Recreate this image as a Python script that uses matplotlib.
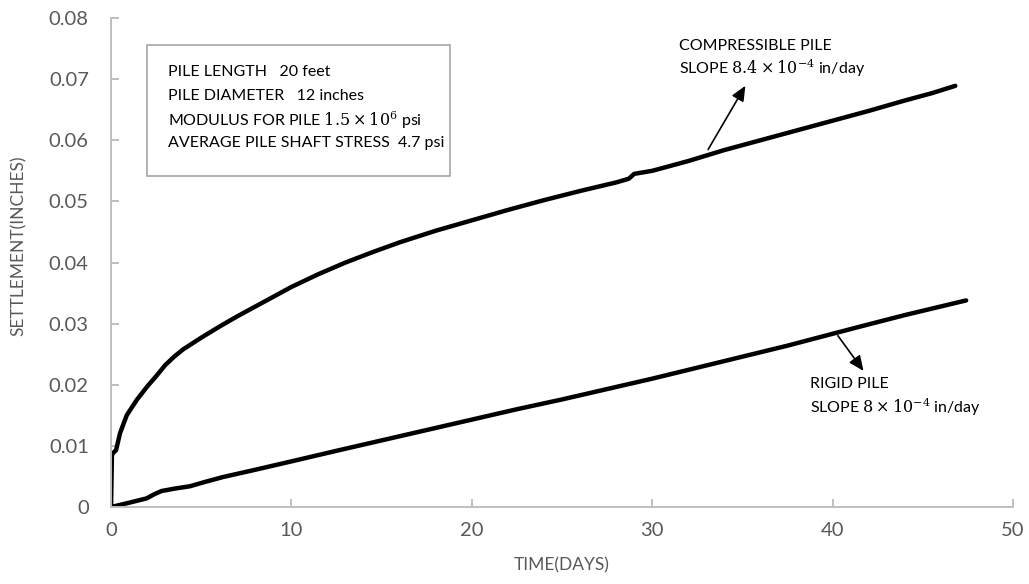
import matplotlib
matplotlib.use("Agg")
import matplotlib.pyplot as plt
from matplotlib.patches import Rectangle

plt.rcParams['font.family'] = ['Lato', 'DejaVu Sans']
plt.rcParams['mathtext.fontset'] = 'dejavuserif'

# Compressible pile settlement (days, inches)
comp_t = [0, 0.05, 0.1, 0.28, 0.5, 0.87, 1.42, 2.0, 2.5, 3.0, 3.5, 4.0, 5.0, 6.0, 7.0, 8.5,
          10.0, 11.5, 13.0, 14.5, 16.0, 18.0, 20.0, 22.0, 24.0, 26.0, 28.0, 28.7, 29.0,
          30.0, 32.0, 34.0, 36.0, 38.0, 40.0, 42.0, 44.0, 45.5, 46.8]
comp_s = [0, 0.0085, 0.0088, 0.0093, 0.0121, 0.0150, 0.0175, 0.0197, 0.0214, 0.0232, 0.0246,
          0.0258, 0.0277, 0.0295, 0.0312, 0.0336, 0.0360, 0.0381, 0.0400, 0.0417, 0.0433,
          0.0452, 0.0469, 0.0486, 0.0502, 0.0517, 0.0531, 0.0537, 0.0545, 0.0550, 0.0566,
          0.0584, 0.0600, 0.0616, 0.0632, 0.0648, 0.0665, 0.0677, 0.0689]

# Rigid pile settlement
rigid_t = [0, 1.0, 1.98, 2.4, 2.8, 3.5, 4.38, 5.2, 6.2, 8.0, 9.9, 12.5, 15.0, 17.5, 20.0,
           22.5, 25.0, 27.5, 30.0, 32.5, 35.0, 37.5, 39.3, 41.5, 44.0, 47.4]
rigid_s = [0, 0.0007, 0.00142, 0.0021, 0.00262, 0.0030, 0.0034, 0.0041, 0.0049, 0.0061,
           0.0074, 0.0092, 0.0109, 0.0126, 0.0143, 0.0160, 0.0176, 0.0193, 0.0210, 0.0228,
           0.0246, 0.0264, 0.0278, 0.0295, 0.0314, 0.0338]

xticks = [0, 10, 20, 30, 40, 50]
yticks = [0, 0.01, 0.02, 0.03, 0.04, 0.05, 0.06, 0.07, 0.08]
ytick_labels = ['0', '0.01', '0.02', '0.03', '0.04', '0.05', '0.06', '0.07', '0.08']

box_lines = ['PILE LENGTH   20 feet',
             'PILE DIAMETER   12 inches',
             r'MODULUS FOR PILE $1.5\times10^{6}$ psi',
             'AVERAGE PILE SHAFT STRESS  4.7 psi']

gray = '#595959'
spine_c = '#BFBFBF'

fig = plt.figure(figsize=(10.29, 5.84), dpi=100)
ax = fig.add_axes([0.1079, 0.1318, 0.8766, 0.8374])

ax.plot(comp_t, comp_s, color='black', lw=3.2, solid_joinstyle='round', solid_capstyle='round')
ax.plot(rigid_t, rigid_s, color='black', lw=3.2, solid_joinstyle='round', solid_capstyle='round')

ax.set_xlim(0, 50)
ax.set_ylim(0, 0.08)
ax.set_xticks(xticks)
ax.set_xticklabels([str(v) for v in xticks])
ax.set_yticks(yticks)
ax.set_yticklabels(ytick_labels)

for s in ['top', 'right']:
    ax.spines[s].set_visible(False)
for s in ['left', 'bottom']:
    ax.spines[s].set_color(spine_c)
    ax.spines[s].set_linewidth(1.4)
ax.tick_params(direction='in', length=6, width=1.4, color=spine_c, labelcolor=gray,
               labelsize=14.5)
ax.tick_params(axis='x', pad=11)
ax.tick_params(axis='y', pad=16)

ax.set_xlabel('TIME(DAYS)', color=gray, fontsize=12.5, labelpad=13)
ax.set_ylabel('SETTLEMENT(INCHES)', color=gray, fontsize=12.5, labelpad=14)
ax.yaxis.set_label_coords(-0.093, 0.535)

# info box
rect = Rectangle((147 / 1029, 1 - 176 / 584), (450 - 147) / 1029, (176 - 45) / 584,
                 transform=fig.transFigure, facecolor='white', edgecolor='#A6A6A6', lw=1.2)
fig.patches.append(rect)
ys = [72, 96, 120, 143]
for txt, yp in zip(box_lines, ys):
    fig.text(168 / 1029, 1 - yp / 584, txt, fontsize=11.5, va='center', ha='left', color='black')

# annotations
fig.text(679 / 1029, 1 - 46 / 584, 'COMPRESSIBLE PILE', fontsize=11.5, va='center', ha='left')
fig.text(679 / 1029, 1 - 68 / 584, r'SLOPE $8.4\times10^{-4}$ in/day', fontsize=11.5,
         va='center', ha='left')
fig.text(810 / 1029, 1 - 384 / 584, 'RIGID PILE', fontsize=11.5, va='center', ha='left')
fig.text(810 / 1029, 1 - 407 / 584, r'SLOPE $8\times10^{-4}$ in/day', fontsize=11.5,
         va='center', ha='left')

ax.annotate('', xy=(35.24, 0.0693), xytext=(33.02, 0.0581),
            arrowprops=dict(arrowstyle='-|>,head_length=0.9,head_width=0.4', color='black', lw=1.2))
ax.annotate('', xy=(41.8, 0.0219), xytext=(40.2, 0.0284),
            arrowprops=dict(arrowstyle='-|>,head_length=0.9,head_width=0.4', color='black', lw=1.2))

fig.savefig('out.png', dpi=100)
